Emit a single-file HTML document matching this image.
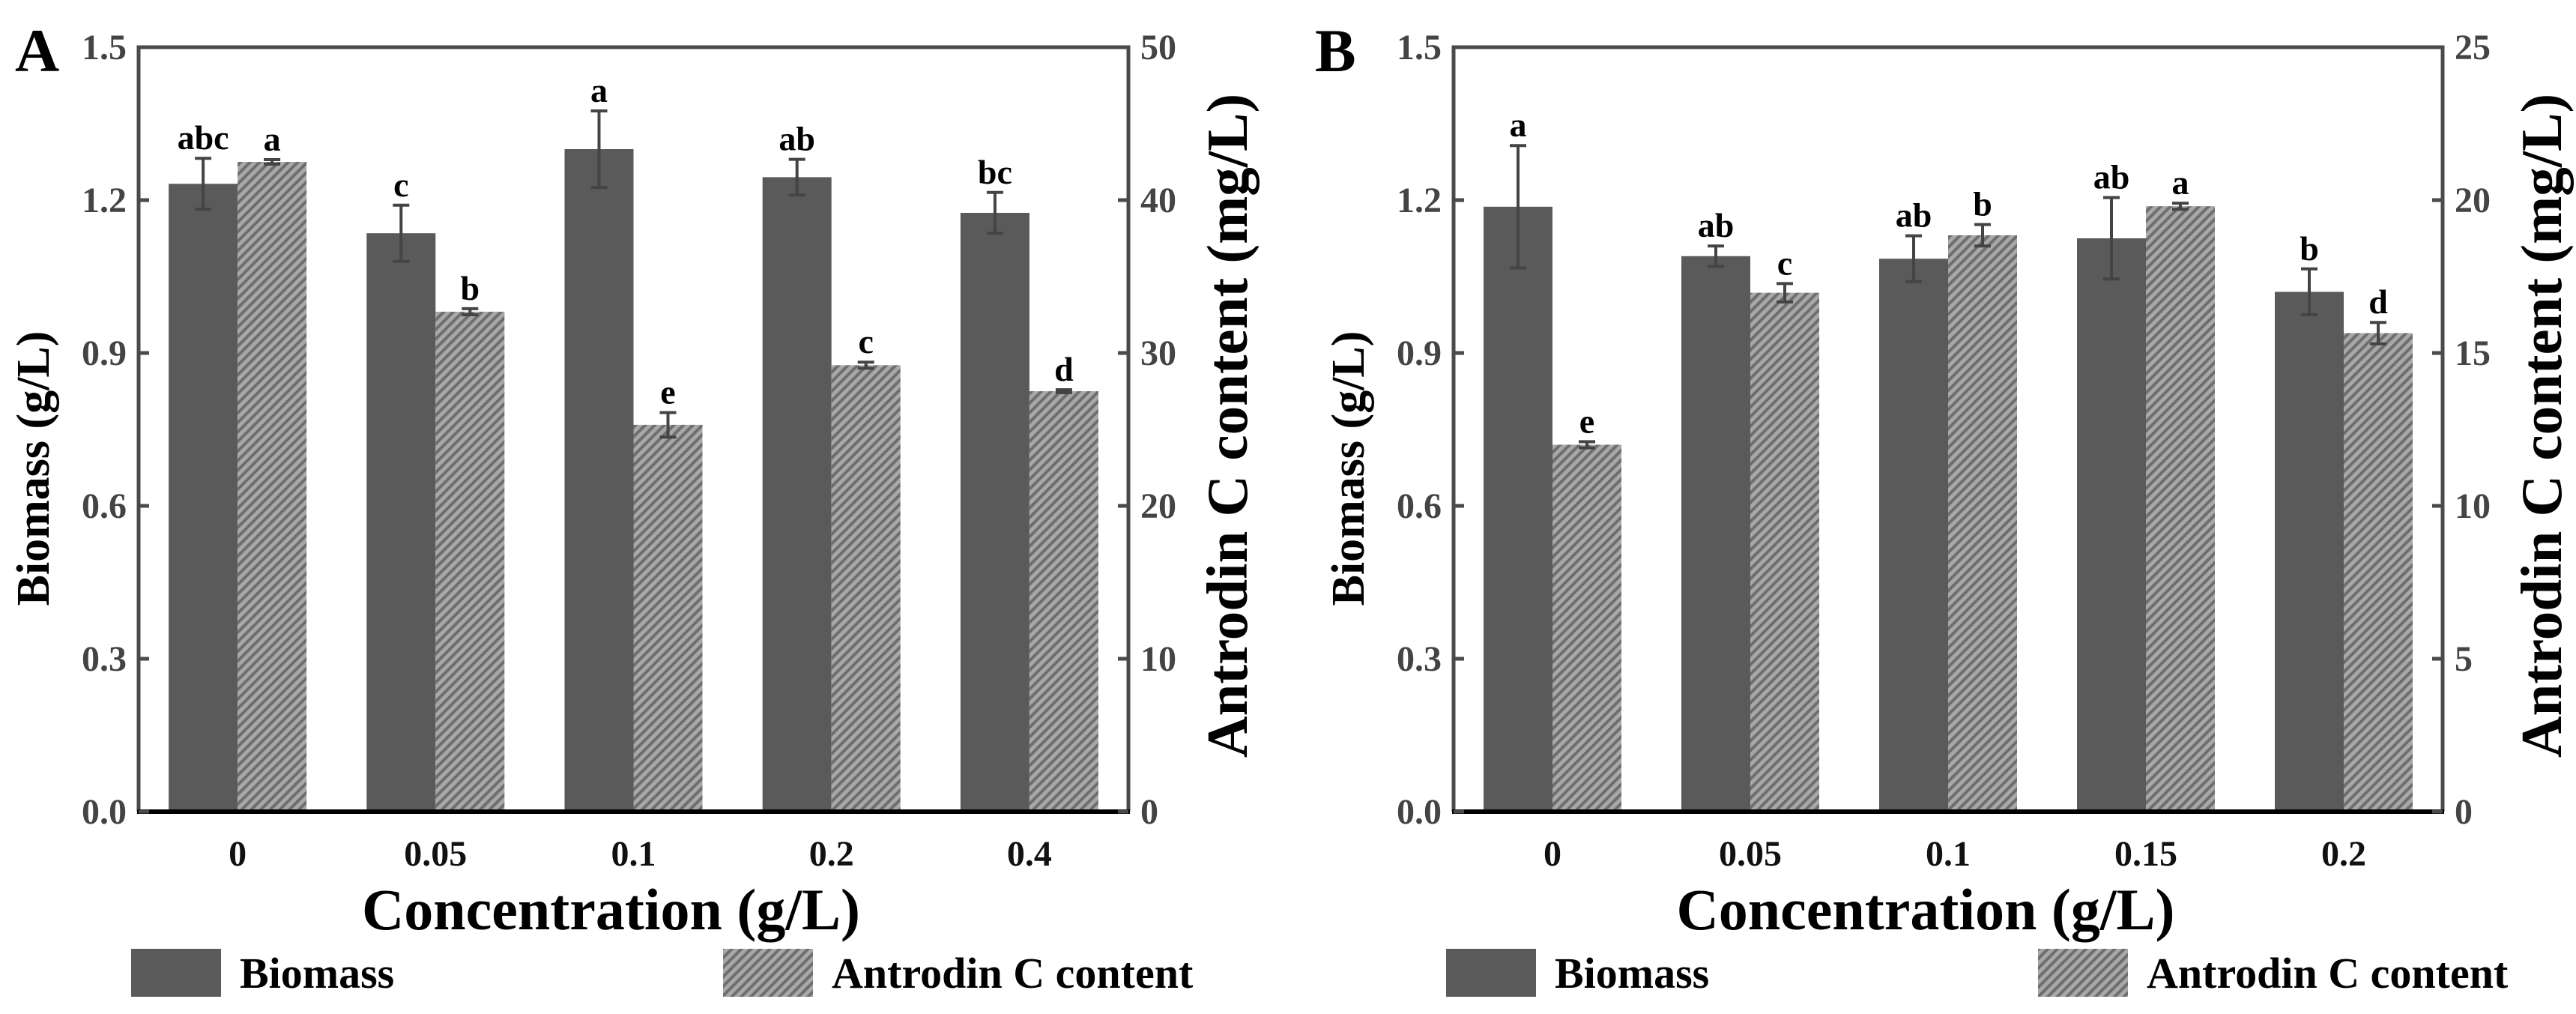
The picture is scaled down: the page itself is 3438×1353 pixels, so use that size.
<!DOCTYPE html>
<html><head><meta charset="utf-8"><style>
html,body{margin:0;padding:0;background:#fff;}
svg{display:block;font-family:"Liberation Serif",serif;}
</style></head><body>
<svg id="chart" width="3438" height="1353" viewBox="0 0 3438 1353" xmlns="http://www.w3.org/2000/svg">
<defs>
<pattern id="hatch" patternUnits="userSpaceOnUse" width="9" height="9" patternTransform="rotate(45)">
<rect width="9" height="9" fill="#a8a8a8"/>
<rect width="4" height="9" fill="#6e6e6e"/>
</pattern>
</defs>
<g id="root"></g>
</svg>
<script>
const categoriesA = ["0","0.05","0.1","0.2","0.4"];
const biomassA = [1.232,1.135,1.30,1.245,1.175];
const biomassErrA = [0.05,0.055,0.075,0.035,0.04];
const antrodinA = [42.5,32.7,25.3,29.2,27.5];
const antrodinErrA = [0.15,0.2,0.8,0.2,0.1];
const lettersBioA = ["abc","c","a","ab","bc"];
const lettersAntA = ["a","b","e","c","d"];

const categoriesB = ["0","0.05","0.1","0.15","0.2"];
const biomassB = [1.187,1.09,1.085,1.125,1.02];
const biomassErrB = [0.12,0.02,0.045,0.08,0.045];
const antrodinB = [12.0,16.97,18.85,19.8,15.65];
const antrodinErrB = [0.1,0.3,0.35,0.1,0.35];
const lettersBioB = ["a","ab","ab","ab","b"];
const lettersAntB = ["e","c","b","a","d"];

const leftTicks = [0,0.3,0.6,0.9,1.2,1.5];
const leftTickLabels = ["0.0","0.3","0.6","0.9","1.2","1.5"];
const rightTicksA = [0,10,20,30,40,50];
const rightTicksB = [0,5,10,15,20,25];

const NS="http://www.w3.org/2000/svg";
const root=document.getElementById('root');
function el(tag,attrs,parent,text){const e=document.createElementNS(NS,tag);for(const k in attrs)e.setAttribute(k,attrs[k]);if(text!==undefined)e.textContent=text;(parent||root).appendChild(e);return e;}

function panel(o){
  const g=el('g',{});
  
  
  const L=o.left,R=o.right,T=63,B=1083;
  const yL=v=>B-(v/1.5)*(B-T);
  const yR=v=>B-(v/o.rmax)*(B-T);
  const band=(R-L)/o.cats.length;
  const bw=92;
  o.cats.forEach((c,i)=>{
    const cx=L+band*(i+0.5);
    const gy=yL(o.bio[i]);
    const r1=el('rect',{x:cx-bw,y:gy,width:bw,height:B-gy,fill:'#5a5a5a'},g);
    
    
    const ay=yR(o.ant[i]);
    const r2=el('rect',{x:cx,y:ay,width:bw,height:B-ay,fill:'url(#hatch)'},g);
    
    
    const ex1=cx-bw/2, t1=yL(o.bio[i]+o.bioE[i]), b1=yL(o.bio[i]-o.bioE[i]);
    const e1=el('path',{d:`M${ex1},${t1}V${b1}M${ex1-11},${t1}H${ex1+11}M${ex1-11},${b1}H${ex1+11}`,stroke:'#444',"stroke-width":4,fill:'none'},g);
    
    
    const ex2=cx+bw/2, t2=yR(o.ant[i]+o.antE[i]), b2=yR(o.ant[i]-o.antE[i]);
    const e2=el('path',{d:`M${ex2},${t2}V${b2}M${ex2-11},${t2}H${ex2+11}M${ex2-11},${b2}H${ex2+11}`,stroke:'#444',"stroke-width":4,fill:'none'},g);
    
    
    const l1=el('text',{x:ex1,y:t1-12,"text-anchor":'middle',"font-size":46,"font-weight":'bold',fill:'#000'},g,o.lb[i]);
    
    
    const l2=el('text',{x:ex2,y:t2-12,"text-anchor":'middle',"font-size":46,"font-weight":'bold',fill:'#000'},g,o.la[i]);
    
    
    const xl=el('text',{x:cx,y:B+72,"text-anchor":'middle',"font-size":48,"font-weight":'bold',fill:'#111'},g,c);
    
    
  });
  const fr=el('path',{d:`M${L},${B}V${T}H${R}V${B}`,stroke:'#4a4a4a',"stroke-width":5,fill:'none'},g);
  
  
  const xa=el('line',{x1:L-2,y1:B,x2:R+2,y2:B,stroke:'#000',"stroke-width":6},g);
  
  
  leftTicks.forEach((v,i)=>{
    const y=yL(v);
    el('line',{x1:L,y1:y,x2:L+14,y2:y,stroke:'#4a4a4a',"stroke-width":5},g);
    const t=el('text',{x:L-16,y:y+16,"text-anchor":'end',"font-size":48,"font-weight":'bold',fill:'#444'},g,leftTickLabels[i]);
    
    
  });
  o.rticks.forEach(v=>{
    const y=yR(v);
    el('line',{x1:R,y1:y,x2:R-14,y2:y,stroke:'#4a4a4a',"stroke-width":5},g);
    const t=el('text',{x:R+16,y:y+16,"text-anchor":'start',"font-size":48,"font-weight":'bold',fill:'#444'},g,String(v));
    
    
  });
  const yt=el('text',{x:0,y:0,transform:`translate(${L-120},${625}) rotate(-90)`,"text-anchor":'middle',"font-size":62,"font-weight":'bold',fill:'#000'},g,'Biomass (g/L)');
  
  
  const rt=el('text',{x:0,y:0,transform:`translate(${R+158},${(T+B)/2-5}) rotate(-90)`,"text-anchor":'middle',"font-size":77,"font-weight":'bold',fill:'#000'},g,'Antrodin C content (mg/L)');
  
  
  const xt=el('text',{x:(L+R)/2-30,y:1240,"text-anchor":'middle',"font-size":78,"font-weight":'bold',fill:'#000'},g,'Concentration (g/L)');
  
  
  const pl=el('text',{x:o.labelX,y:95,"font-size":82,"font-weight":'bold',fill:'#000'},g,o.id);
  
  
  const s1=el('rect',{x:L-10,y:1266,width:120,height:64,fill:'#5a5a5a'},g);
  
  
  const t1=el('text',{x:L+135,y:1318,"font-size":58,"font-weight":'bold',fill:'#000'},g,'Biomass');
  
  
  const s2=el('rect',{x:L+780,y:1266,width:120,height:64,fill:'url(#hatch)'},g);
  
  
  const t2=el('text',{x:L+925,y:1318,"font-size":58,"font-weight":'bold',fill:'#000'},g,'Antrodin C content');
  
  
}
panel({id:'A',left:185,right:1506,labelX:20,rmax:50,rticks:rightTicksA,cats:categoriesA,bio:biomassA,bioE:biomassErrA,ant:antrodinA,antE:antrodinErrA,lb:lettersBioA,la:lettersAntA});
panel({id:'B',left:1940,right:3260,labelX:1755,rmax:25,rticks:rightTicksB,cats:categoriesB,bio:biomassB,bioE:biomassErrB,ant:antrodinB,antE:antrodinErrB,lb:lettersBioB,la:lettersAntB});
</script>
</body></html>
